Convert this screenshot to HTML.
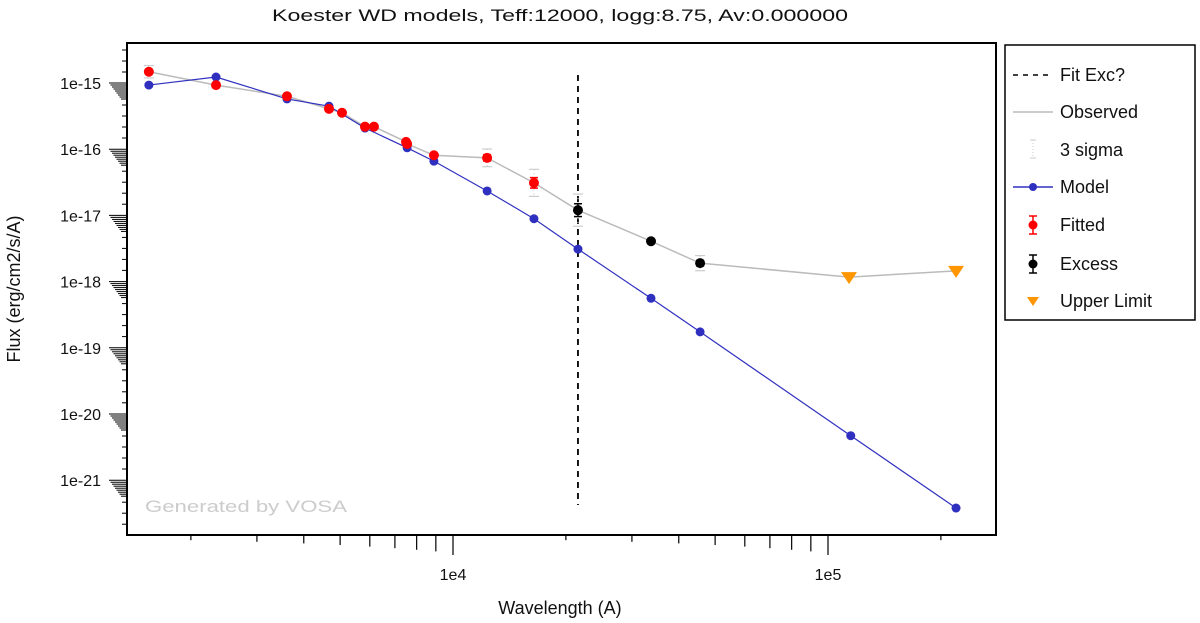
<!DOCTYPE html>
<html><head><meta charset="utf-8"><style>
html,body{margin:0;padding:0;background:#fff;}
svg{display:block;font-family:"Liberation Sans",sans-serif;}
</style></head><body>
<svg id="chart" width="1200" height="623" viewBox="0 0 1200 623" xmlns="http://www.w3.org/2000/svg">
<rect width="1200" height="623" fill="#fff"/>
<text x="560" y="21" font-size="17" text-anchor="middle" textLength="576" lengthAdjust="spacingAndGlyphs" fill="#111" style="font-family:'Liberation Sans','Noto Sans CJK JP',sans-serif">Koester WD models, Teff:12000, logg:8.75, Av:0.000000</text>
<g id="axes"></g>
<text x="145" y="512" font-size="17" fill="#ccc" textLength="202" lengthAdjust="spacingAndGlyphs">Generated by VOSA</text>
<g id="marks"></g>
<rect x="127" y="43" width="869" height="492" fill="none" stroke="#000" stroke-width="2"/>
<text x="560" y="614" font-size="18" text-anchor="middle" fill="#111">Wavelength (A)</text>
<text transform="translate(20,289) rotate(-90)" font-size="18" text-anchor="middle" fill="#111">Flux (erg/cm2/s/A)</text>
<g>
<rect x="1005" y="45" width="190" height="275" fill="#fff" stroke="#000" stroke-width="1.5"/>
<g><line x1="1013" y1="75" x2="1053" y2="75" stroke="#000" stroke-width="1.5" stroke-dasharray="5,5"/><text x="1060" y="81" font-size="18" fill="#111">Fit Exc?</text></g>
<g><line x1="1013" y1="112" x2="1053" y2="112" stroke="#bbb" stroke-width="1.5"/><text x="1060" y="118" font-size="18" fill="#111">Observed</text></g>
<g><line x1="1033" y1="140" x2="1033" y2="158" stroke="#ccc" stroke-width="1" stroke-dasharray="1,2"/><line x1="1030" y1="140" x2="1036" y2="140" stroke="#ccc"/><line x1="1030" y1="158" x2="1036" y2="158" stroke="#ccc"/><text x="1060" y="156" font-size="18" fill="#111">3 sigma</text></g>
<g><line x1="1013" y1="187" x2="1053" y2="187" stroke="#3030c0" stroke-width="1.5"/><circle cx="1033" cy="187" r="4" fill="#3030c0"/><text x="1060" y="193" font-size="18" fill="#111">Model</text></g>
<g><line x1="1033" y1="216" x2="1033" y2="234" stroke="red" stroke-width="1.5"/><line x1="1029" y1="216" x2="1037" y2="216" stroke="red" stroke-width="1.5"/><line x1="1029" y1="234" x2="1037" y2="234" stroke="red" stroke-width="1.5"/><circle cx="1033" cy="225" r="4.5" fill="red"/><text x="1060" y="231" font-size="18" fill="#111">Fitted</text></g>
<g><line x1="1033" y1="255" x2="1033" y2="273" stroke="#000" stroke-width="1.5"/><line x1="1029" y1="255" x2="1037" y2="255" stroke="#000" stroke-width="1.5"/><line x1="1029" y1="273" x2="1037" y2="273" stroke="#000" stroke-width="1.5"/><circle cx="1033" cy="264" r="4.5" fill="#000"/><text x="1060" y="270" font-size="18" fill="#111">Excess</text></g>
<g><polygon points="1027,297 1039,297 1033,306" fill="#ff9500"/><text x="1060" y="307" font-size="18" fill="#111">Upper Limit</text></g>
</g>
</svg>
<script>
const modelWave=[1545,2334,3608,4670,5825,7545,8895,12330,16440,21540,33730,45600,115000,219500];
const modelFlux=[9.3e-16,1.23e-15,5.75e-16,4.47e-16,2.09e-16,1.05e-16,6.6e-17,2.34e-17,8.9e-18,3.1e-18,5.6e-19,1.74e-19,4.7e-21,3.8e-22];
const fittedWave=[1545,2334,3608,4670,5058,5825,6155,7495,7545,8895,12330,16440];
const fittedFlux=[1.48e-15,9.3e-16,6.3e-16,4.07e-16,3.55e-16,2.19e-16,2.19e-16,1.29e-16,1.2e-16,8.1e-17,7.4e-17,3.1e-17];
const fittedErr=[0.08,0.02,0.02,0.02,0.02,0.02,0.02,0.02,0.02,0.02,0.12,0.2];
const excessWave=[21540,33730,45600];
const excessFlux=[1.2e-17,4.07e-18,1.9e-18];
const excessErr=[0.25,0.03,0.1];
const upperWave=[113800,219500];
const upperFlux=[1.17e-18,1.45e-18];
const fitExcWave=21540;
const yTickExps=[-15,-16,-17,-18,-19,-20,-21];
const yTickLabels=["1e-15","1e-16","1e-17","1e-18","1e-19","1e-20","1e-21"];
const xTickValues=[1e4,1e5];
const xTickLabels=["1e4","1e5"];

const NS="http://www.w3.org/2000/svg";
function xs(w){return 453+(Math.log10(w)-4)*375;}
function ys(f){return 83-(Math.log10(f)+15)*66.2;}
function mk(tag,attrs,parent){const e=document.createElementNS(NS,tag);for(const k in attrs)e.setAttribute(k,attrs[k]);parent.appendChild(e);return e;}
const axes=document.getElementById('axes');
const marks=document.getElementById('marks');

yTickExps.forEach((e,i)=>{
  const y0=ys(Math.pow(10,e));
  const t=mk('text',{x:101,y:y0+6,'font-size':16,'text-anchor':'end',fill:'#111'},axes);
  
  
  t.textContent=yTickLabels[i];
  for(let m=0;m<9;m++){
    const l=mk('line',{x1:127-(18-m*1.5),x2:127,y1:y0+m*2,y2:y0+m*2,stroke:'#000','stroke-width':1},axes);
    
    
  }
  for(let k=2;k<6;k++){
    const yy=y0+k*11;
    if(yy>533) break;
    const l=mk('line',{x1:122,x2:127,y1:yy,y2:yy,stroke:'#000','stroke-width':1},axes);
    
    
  }
  if(i===0){for(let k=1;k<4;k++){const yy=y0-k*11;const l=mk('line',{x1:122,x2:127,y1:yy,y2:yy,stroke:'#000'},axes);}}
});
[1e3,1e4,1e5].forEach(dec=>{
  for(let m=2;m<=10;m++){
    const w=dec*m; const x=xs(w);
    if(x<128||x>995) continue;
    const len=m===10?20:2+m*1.6;
    const l=mk('line',{x1:x,x2:x,y1:535,y2:535+len,stroke:'#000','stroke-width':1.2},axes);
    
    
  }
});
xTickValues.forEach((v,i)=>{
  const t=mk('text',{x:xs(v),y:580,'font-size':16,'text-anchor':'middle',fill:'#111'},axes);
  
  
  t.textContent=xTickLabels[i];
});

const fx=mk('line',{x1:xs(fitExcWave),x2:xs(fitExcWave),y1:75,y2:505,stroke:'#000','stroke-width':1.8,'stroke-dasharray':'6,5'},marks);



const obs=[];
fittedWave.forEach((w,i)=>obs.push([w,fittedFlux[i]]));
excessWave.forEach((w,i)=>obs.push([w,excessFlux[i]]));
upperWave.forEach((w,i)=>obs.push([w,upperFlux[i]]));
const op=mk('polyline',{points:obs.map(p=>xs(p[0])+','+ys(p[1])).join(' '),fill:'none',stroke:'#bbb','stroke-width':1.5},marks);



function sig(w,f,e){
  if(e<0.05) return;
  const x=xs(w),yu=ys(f*(1+3*e)),yl=ys(f/(1+3*e));
  const g=mk('g',{stroke:'#ccc','stroke-width':1.2},marks);
  
  
  mk('line',{x1:x,x2:x,y1:yu,y2:yl,'stroke-dasharray':'1,3'},g);
  mk('line',{x1:x-5,x2:x+5,y1:yu,y2:yu},g);
  mk('line',{x1:x-5,x2:x+5,y1:yl,y2:yl},g);
}
fittedWave.forEach((w,i)=>sig(w,fittedFlux[i],fittedErr[i]));
excessWave.forEach((w,i)=>sig(w,excessFlux[i],excessErr[i]));

const mp=mk('polyline',{points:modelWave.map((w,i)=>xs(w)+','+ys(modelFlux[i])).join(' '),fill:'none',stroke:'#3030c0','stroke-width':1.2},marks);


modelWave.forEach((w,i)=>{
  const c=mk('circle',{cx:xs(w),cy:ys(modelFlux[i]),r:4.5,fill:'#3030c0'},marks);
  
  
});

function pt(w,f,e,col,name){
  const x=xs(w),y=ys(f);
  if(e>=0.05){
    const yu=ys(f*(1+e)),yl=ys(f/(1+e));
    const g=mk('g',{stroke:col,'stroke-width':1.5},marks);
    
    
    mk('line',{x1:x,x2:x,y1:yu,y2:yl},g);
    mk('line',{x1:x-4,x2:x+4,y1:yu,y2:yu},g);
    mk('line',{x1:x-4,x2:x+4,y1:yl,y2:yl},g);
  }
  const c=mk('circle',{cx:x,cy:y,r:5,fill:col},marks);
  
  
}
fittedWave.forEach((w,i)=>pt(w,fittedFlux[i],fittedErr[i],'#f00','fitted'));
excessWave.forEach((w,i)=>pt(w,excessFlux[i],excessErr[i],'#000','excess'));
upperWave.forEach((w,i)=>{
  const x=xs(w),y=ys(upperFlux[i]);
  const p=mk('polygon',{points:(x-8)+','+(y-5)+' '+(x+8)+','+(y-5)+' '+x+','+(y+7),fill:'#ff9500'},marks);
  
  
});
</script>
</body></html>
